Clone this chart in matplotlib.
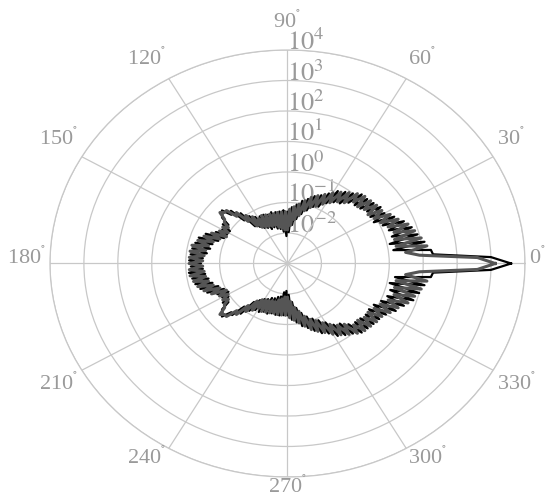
import numpy as np
import matplotlib
matplotlib.use("Agg")
import matplotlib.pyplot as plt

plt.rcParams['font.family'] = ['Liberation Serif', 'DejaVu Serif']
plt.rcParams['mathtext.fontset'] = 'stix'

# angle of each sample, degrees
angles_deg = np.arange(0, 360, 2)

# pattern values as powers of ten (log10 of the radial value)
black_exp = [
    3.59, 3.00, 1.30, 1.25, 0.15, 1.10, 0.08, 0.95, 0.20, 0.85,
    0.18, 0.70, 0.07, 0.50, -0.12, 0.30, -0.12, 0.31, -0.10, 0.22,
    -0.20, 0.16, -0.25, 0.15, -0.32, 0.00, -0.50, -0.10, -0.58, -0.20,
    -0.72, -0.40, -0.93, -0.55, -1.00, -0.65, -1.17, -0.80, -1.33, -0.90,
    -1.52, -1.05, -1.73, -1.15, -1.97, -1.30, -2.10, -1.25, -1.95, -1.28,
    -1.85, -1.28, -1.82, -1.25, -1.75, -1.30, -1.78, -1.25, -1.70, -1.25,
    -1.65, -1.20, -1.55, -1.08, -1.45, -0.85, -1.10, -0.60, -0.70, -0.40,
    -0.50, -0.55, -0.85, -0.70, -1.00, -0.78, -0.98, -0.65, -0.95, -0.40,
    -0.83, -0.25, -0.70, -0.20, -0.67, -0.15, -0.60, -0.13, -0.50, -0.10,
    -0.45,
    -0.15, -0.50, -0.08, -0.55, -0.15, -0.62, -0.20, -0.70, -0.30, -0.83,
    -0.45, -0.95, -0.70, -1.03, -0.78, -0.95, -0.70, -0.85, -0.55, -0.50,
    -0.40, -0.70, -0.65, -1.10, -0.85, -1.40, -1.08, -1.55, -1.20, -1.65,
    -1.20, -1.70, -1.27, -1.78, -1.25, -1.80, -1.30, -1.87, -1.28, -1.90,
    -1.28, -2.05, -1.30, -2.10, -1.30, -1.97, -1.15, -1.73, -1.05, -1.52,
    -0.90, -1.33, -0.80, -1.17, -0.65, -1.05, -0.50, -0.93, -0.40, -0.77,
    -0.20, -0.58, -0.10, -0.50, 0.00, -0.32, 0.15, -0.23, 0.18, -0.20,
    0.22, -0.15, 0.26, -0.17, 0.35, -0.12, 0.55, 0.02, 0.70, 0.13,
    0.90, 0.15, 1.00, 0.08, 1.10, 0.20, 1.25, 1.30, 3.00,
]

gray_exp = [
    3.12, 2.60, 0.90, 0.50, 1.15, 0.25, 1.03, 0.25, 0.90, 0.30,
    0.78, 0.20, 0.57, 0.05, 0.43, -0.05, 0.28, -0.14, 0.25, -0.13,
    0.20, -0.22, 0.17, -0.20, 0.08, -0.40, -0.05, -0.50, -0.18, -0.65,
    -0.32, -0.80, -0.48, -0.95, -0.60, -1.05, -0.72, -1.20, -0.88, -1.40,
    -1.02, -1.55, -1.13, -1.75, -1.22, -1.90, -1.30, -1.90, -1.30, -1.83,
    -1.30, -1.78, -1.32, -1.70, -1.30, -1.70, -1.28, -1.67, -1.25, -1.65,
    -1.30, -1.60, -1.15, -1.48, -1.00, -1.20, -0.75, -0.85, -0.50, -0.50,
    -0.40, -0.65, -0.70, -0.90, -0.75, -0.98, -0.73, -1.00, -0.55, -0.85,
    -0.38, -0.70, -0.25, -0.60, -0.12, -0.55, -0.10, -0.53, -0.10, -0.50,
    -0.10,
    -0.50, -0.10, -0.53, -0.10, -0.55, -0.17, -0.60, -0.25, -0.70, -0.38,
    -0.85, -0.55, -1.00, -0.73, -0.98, -0.75, -0.90, -0.70, -0.65, -0.40,
    -0.50, -0.50, -0.85, -0.75, -1.20, -1.00, -1.48, -1.15, -1.60, -1.30,
    -1.65, -1.25, -1.67, -1.28, -1.70, -1.30, -1.70, -1.32, -1.78, -1.30,
    -1.83, -1.30, -1.90, -1.30, -1.90, -1.22, -1.75, -1.13, -1.55, -1.02,
    -1.40, -0.88, -1.20, -0.72, -1.05, -0.60, -0.95, -0.48, -0.80, -0.32,
    -0.65, -0.18, -0.50, -0.05, -0.40, 0.08, -0.20, 0.17, -0.22, 0.20,
    -0.13, 0.25, -0.14, 0.28, -0.05, 0.43, 0.05, 0.57, 0.20, 0.78,
    0.30, 0.90, 0.25, 1.03, 0.25, 1.15, 0.50, 0.90, 2.60,
]

ring_exps = [-2, -1, 0, 1, 2, 3, 4]
theta_ticks = [0, 30, 60, 90, 120, 150, 180, 210, 240, 270, 300, 330]

grid_col = '#c8c8c8'
text_col = '#9a9a9a'

fig = plt.figure(figsize=(5.45, 4.98), dpi=100)
ax = fig.add_axes([0.0917, 0.0422, 0.8716, 0.8574], projection='polar')
ax.set_aspect('auto')
ax.set_rscale('log')
ax.set_rlim(1e-3, 1e4)

# close the curves
theta = np.deg2rad(np.append(angles_deg, 360))
r_black = 10.0 ** np.append(black_exp, black_exp[0])
r_gray = 10.0 ** np.append(gray_exp, gray_exp[0])

ax.plot(theta, r_black, color='black', lw=1.6, zorder=3)
ax.plot(theta, r_gray, color='#555555', lw=2.2, zorder=4)

# grid
ax.set_rticks([10.0 ** k for k in ring_exps])
ax.yaxis.set_minor_locator(matplotlib.ticker.NullLocator())
ax.set_yticklabels([])
ax.set_thetagrids(theta_ticks, labels=[''] * len(theta_ticks))
ax.grid(True, color=grid_col, lw=0.9)
ax.tick_params(axis='both', which='both', length=0)
ax.spines['polar'].set_color(grid_col)
ax.spines['polar'].set_linewidth(0.9)

# radial labels along 90 deg
for k in ring_exps:
    ax.text(np.pi / 2, 10.0 ** k, rf'$10^{{{k}}}$', ha='left', va='baseline',
            color=text_col, fontsize=19, zorder=1)

# angle labels outside the rim
for a in theta_ticks:
    th = np.deg2rad(a)
    c, s = np.cos(th), np.sin(th)
    ha = 'left' if c > 0.1 else ('right' if c < -0.1 else 'center')
    va = 'bottom' if s > 0.1 else ('top' if s < -0.1 else 'center')
    dy = 4 * s + 5
    if a == 90:
        dy += 8
    if a in (210, 330):
        dy -= 6
    ax.annotate(rf'{a}$^{{^{{\circ}}}}$', xy=(th, 1e4), xytext=(4 * c, dy),
                textcoords='offset pixels', ha=ha, va=va, color=text_col,
                fontsize=16, annotation_clip=False)

fig.savefig('out.png', dpi=100)
